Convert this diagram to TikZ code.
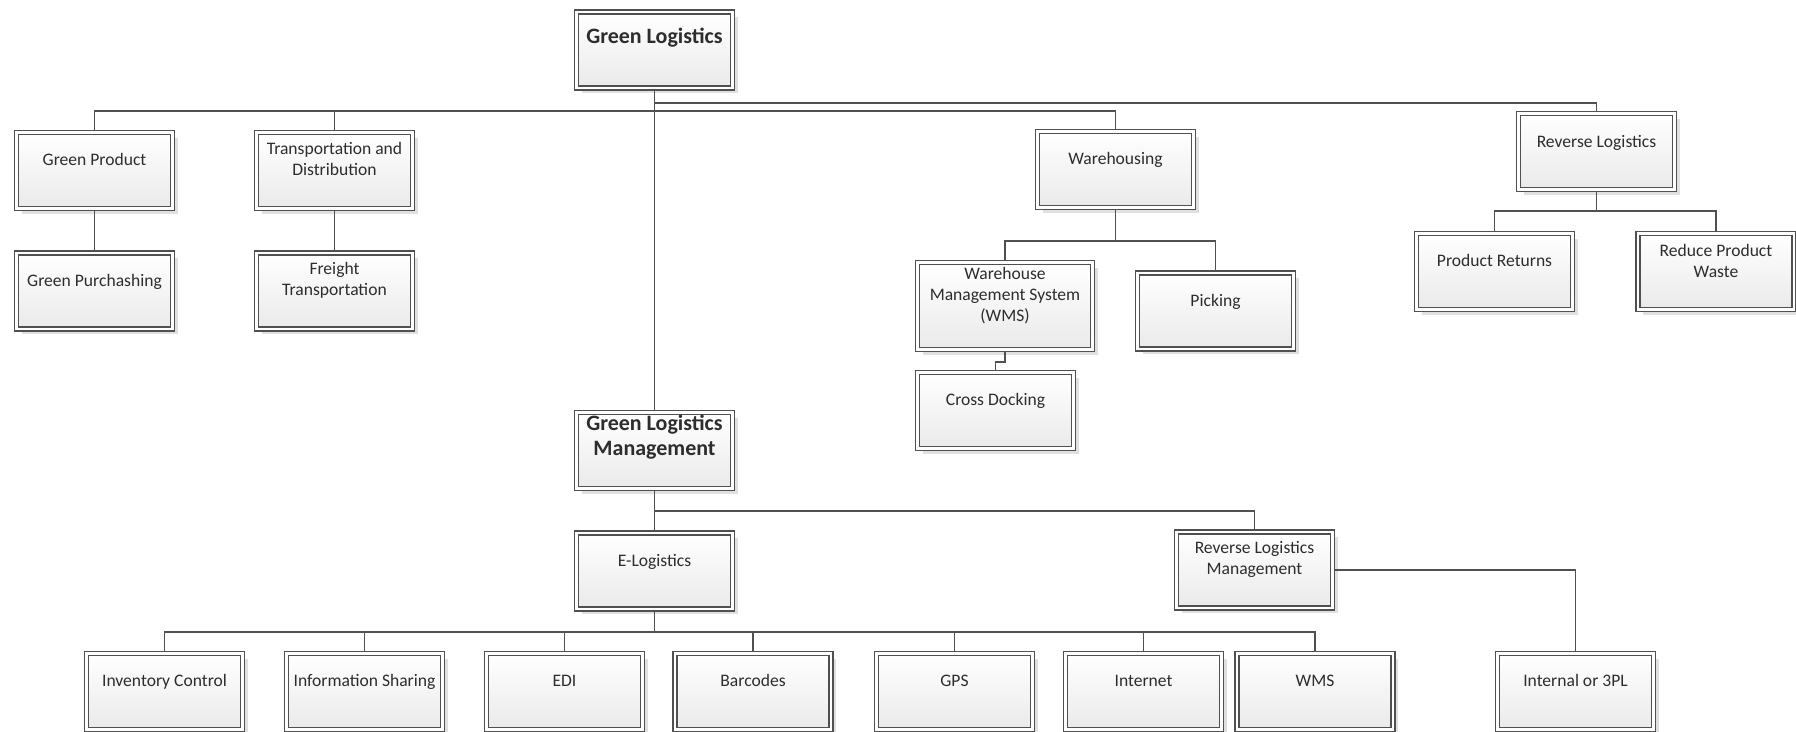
\documentclass[tikz,border=0pt]{standalone}
\usepackage{fontspec}
\setmainfont{Carlito}
\usetikzlibrary{shadows}
\definecolor{linegray}{RGB}{80,80,80}
\definecolor{txtgray}{RGB}{45,45,45}
\definecolor{boxbot}{RGB}{234,234,234}
\begin{document}
\begin{tikzpicture}[x=0.02cm,y=-0.02cm]
\tikzstyle{every node}+=[inner sep=0pt]
\tikzstyle{box}=[draw=linegray, line width=0.8pt, double=white, double distance=1.5pt, top color=white, bottom color=boxbot, minimum width=3.114cm, minimum height=1.514cm, outer sep=1.55pt, drop shadow={shadow xshift=3pt, shadow yshift=-3pt, fill=black!30, opacity=0.4}]
\tikzstyle{lbl}=[align=center, text=txtgray, font=\fontsize{10}{11.9}\selectfont]
\tikzstyle{lbl1}=[lbl, anchor=base]
\tikzstyle{head}=[lbl, font=\bfseries\fontsize{12.5}{14.2}\selectfont]
\tikzstyle{link}=[draw=linegray, line width=0.8pt]
\useasboundingbox (0,0) rectangle (1796,731);
% top level
\node[box] (gl) at (654.5,50) {};
\node[head, anchor=base] (gl-t) at (654.5,43) {Green Logistics};
\node[box] (gp) at (94.5,170.5) {};
\node[lbl1] (gp-t) at (94.5,165) {Green Product};
\node[box] (td) at (334.5,170.5) {};
\node[lbl] (td-t) at (334.5,159) {Transportation and\\Distribution};
\node[box] (wh) at (1115.5,169.5) {};
\node[lbl1] (wh-t) at (1115.5,164) {Warehousing};
\node[box] (rl) at (1596.5,151.5) {};
\node[lbl1] (rl-t) at (1596.5,147) {Reverse Logistics};
\node[box] (gpu) at (94.5,291) {};
\node[lbl1] (gpu-t) at (94.5,286) {Green Purchashing};
\node[box] (ft) at (334.5,291) {};
\node[lbl] (ft-t) at (334.5,280) {Freight\\Transportation};
\node[box, minimum width=3.494cm, minimum height=1.734cm] (wms) at (1005,306) {};
\node[lbl] (wms-t) at (1005,296) {Warehouse\\Management System\\(WMS)};
\node[box] (pick) at (1215.5,311) {};
\node[lbl1] (pick-t) at (1215.5,306) {Picking};
\node[box] (cd) at (995.5,410.5) {};
\node[lbl1] (cd-t) at (995.5,405) {Cross Docking};
\node[box] (pr) at (1494.5,271.5) {};
\node[lbl1] (pr-t) at (1494.5,266) {Product Returns};
\node[box] (rpw) at (1716,271.5) {};
\node[lbl] (rpw-t) at (1716,261) {Reduce Product\\Waste};
% management part
\node[box] (glm) at (654.5,450.5) {};
\node[head] (glm-t) at (654.5,437.5) {Green Logistics\\Management};
\node[box] (el) at (654.5,571) {};
\node[lbl1] (el-t) at (654.5,566) {E-Logistics};
\node[box] (rlm) at (1254.5,570) {};
\node[lbl] (rlm-t) at (1254.5,559) {Reverse Logistics\\Management};
\node[box] (ic) at (164.5,691.5) {};
\node[lbl1] (ic-t) at (164.5,686) {Inventory Control};
\node[box] (is) at (364.5,691.5) {};
\node[lbl1] (is-t) at (364.5,686) {Information Sharing};
\node[box] (edi) at (564.5,691.5) {};
\node[lbl1] (edi-t) at (564.5,686) {EDI};
\node[box] (bc) at (753,691.5) {};
\node[lbl1] (bc-t) at (753,686) {Barcodes};
\node[box] (gps) at (954.5,691.5) {};
\node[lbl1] (gps-t) at (954.5,686) {GPS};
\node[box] (inet) at (1143.5,691.5) {};
\node[lbl1] (inet-t) at (1143.5,686) {Internet};
\node[box] (wmsb) at (1315,691.5) {};
\node[lbl1] (wmsb-t) at (1315,686) {WMS};
\node[box] (int) at (1575.5,691.5) {};
\node[lbl1] (int-t) at (1575.5,686) {Internal or 3PL};
% bus points
\coordinate (bus0) at (654.5,103);
\coordinate (bus1) at (654.5,111);
\coordinate (bus2) at (1115.5,241);
\coordinate (bus3) at (1596.5,211);
\coordinate (bus4) at (654.5,511);
\coordinate (bus5) at (654.5,632);
% connectors
\draw[link] (gl.south) -- (glm.north);
\draw[link] (bus0) -| (rl.north);
\draw[link] (gp.north) |- (bus1) -| (wh.north);
\draw[link] (td.north) -- (td.north |- bus1);
\draw[link] (gp.south) -- (gpu.north);
\draw[link] (td.south) -- (ft.north);
\draw[link] (wh.south) -- (bus2);
\draw[link] (wms.north) |- (bus2) -| (pick.north);
\draw[link] (wms.south) -- ++(0,10) -| (cd.north);
\draw[link] (rl.south) -- (bus3);
\draw[link] (pr.north) |- (bus3) -| (rpw.north);
\draw[link] (glm.south) -- (el.north);
\draw[link] (bus4) -| (rlm.north);
\draw[link] (el.south) -- (bus5);
\draw[link] (ic.north) |- (bus5) -| (wmsb.north);
\draw[link] (is.north) -- (is.north |- bus5);
\draw[link] (edi.north) -- (edi.north |- bus5);
\draw[link] (bc.north) -- (bc.north |- bus5);
\draw[link] (gps.north) -- (gps.north |- bus5);
\draw[link] (inet.north) -- (inet.north |- bus5);
\draw[link] (rlm.east) -| (int.north);
\end{tikzpicture}
\end{document}
